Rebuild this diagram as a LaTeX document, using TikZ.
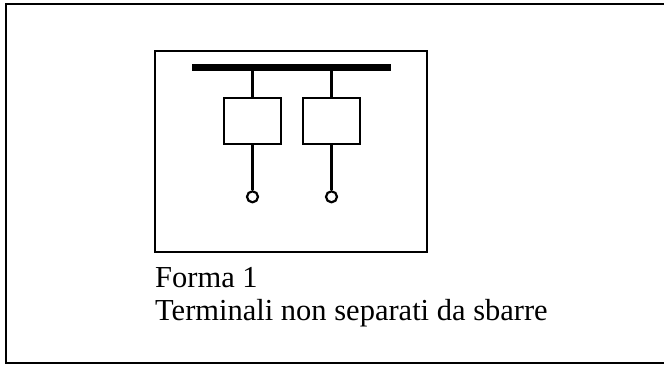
\documentclass[tikz,border=0pt]{standalone}
\usepackage{fontspec}
\setmainfont{Liberation Serif}
\usepackage{tikz}
\usetikzlibrary{positioning}

\begin{document}
\begin{tikzpicture}[x=1pt, y=-1pt,
                    frame_line/.style={draw=black, line width=2.4pt},
                    bus_bar/.style={draw=black, line width=7pt},
                    unit_box/.style={rectangle, draw=black, line width=2.4pt, minimum width=57pt, minimum height=46pt, inner sep=0pt},
                    term_node/.style={circle, draw=black, line width=2.2pt, minimum size=11pt, inner sep=0pt},
                    wire/.style={draw=black, line width=2.4pt},
                    caption/.style={anchor=base west, inner sep=0pt, font=\fontsize{30.5}{33}\selectfont}
                ]
                    \useasboundingbox (0,0) rectangle (664,365);
                    % outer frame (open on the right)
                    \draw[frame_line] (664,4) -- (6,4) -- (6,363) -- (664,363);
                    % cubicle
                    \draw[frame_line] (155,51) rectangle (427,252);
                    \coordinate (bus_l) at (192,67);
                    \coordinate (bus_r) at (391,67);
                    \draw[bus_bar] (bus_l) -- (bus_r);
                    \node[unit_box] (box1) at (252.5,121) {};
                    \node[unit_box] (box2) at (331.5,121) {};
                    \node[term_node, below=45pt of box1] (term1) {};
                    \node[term_node, below=45pt of box2] (term2) {};
                    \draw[wire] (box1.north |- bus_l) -- (box1.north);
                    \draw[wire] (box2.north |- bus_l) -- (box2.north);
                    \draw[wire] (box1.south) -- (term1.north);
                    \draw[wire] (box2.south) -- (term2.north);
                    % caption
                    \node[caption] (form_label) at (155,287) {Forma 1};
                    \node[caption] (desc_label) at (155,320) {Terminali non separati da sbarre};
                \end{tikzpicture}
\end{document}
